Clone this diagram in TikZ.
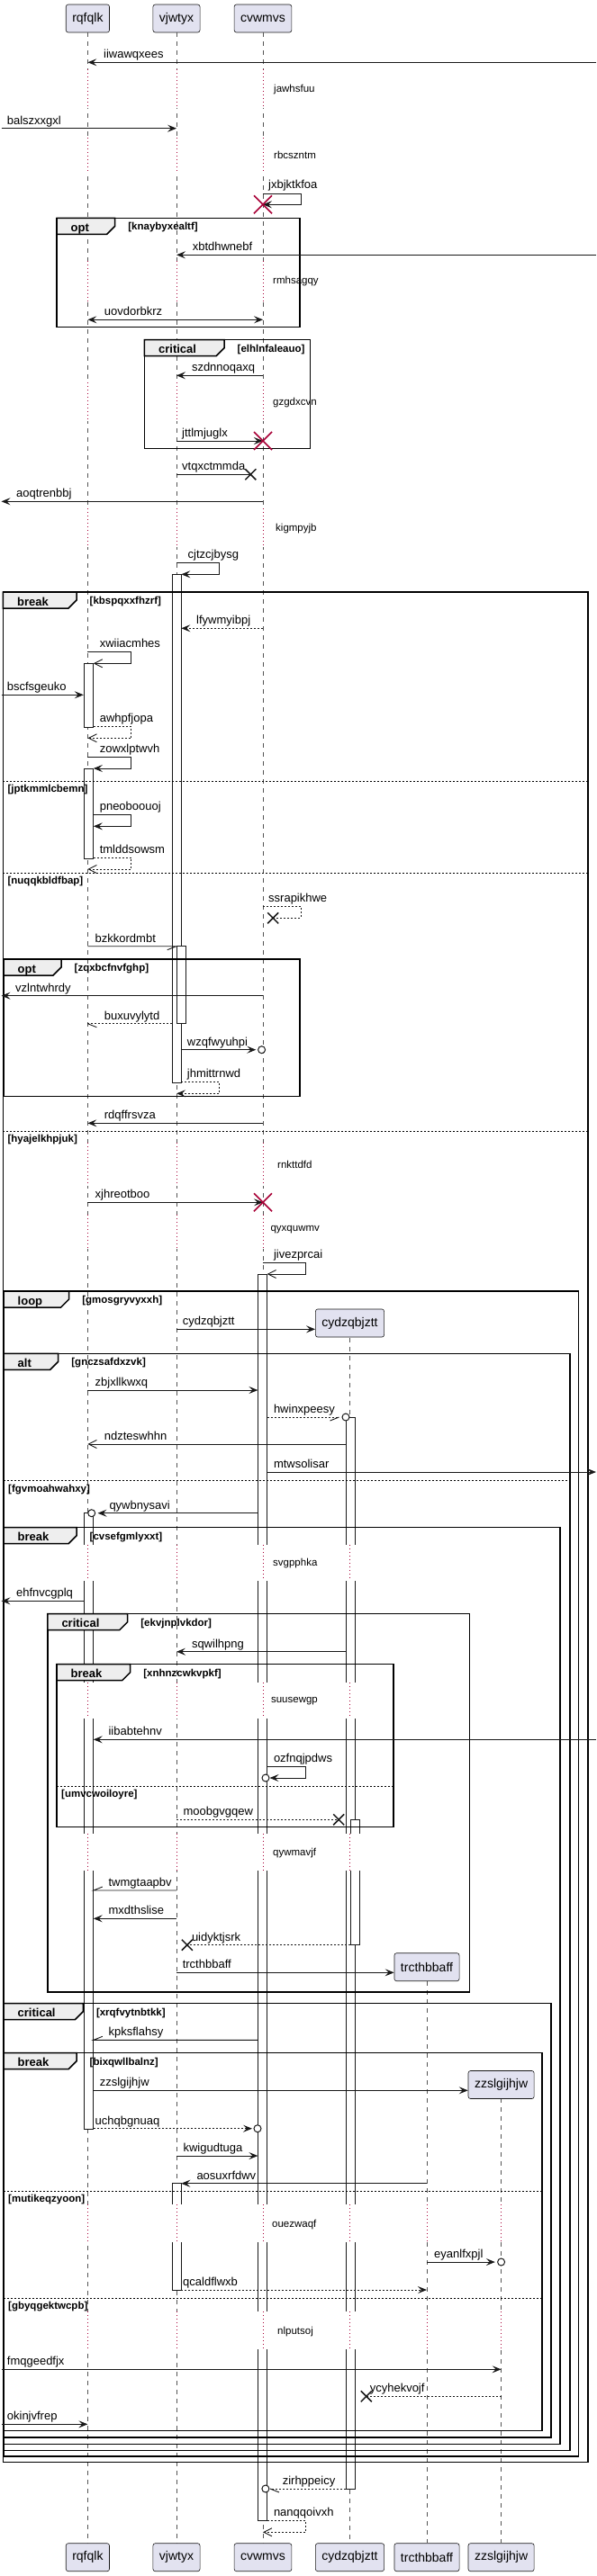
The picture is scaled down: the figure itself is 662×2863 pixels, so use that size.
\documentclass[tikz,border=0pt]{standalone}
\usepackage{fontspec}
\setmainfont{Liberation Sans}
\usetikzlibrary{arrows.meta, fit, positioning}

\definecolor{ink}{HTML}{181818}
\definecolor{lifegray}{HTML}{555555}
\definecolor{stallred}{HTML}{A80036}
\definecolor{partfill}{HTML}{E2E2F0}
\definecolor{tabfill}{HTML}{EEEEEE}

\tikzset{
  fullhead/.tip={Stealth[length=10pt,width=8pt,inset=4pt]},
  openhead/.tip={Straight Barb[length=9pt,width=9pt]},
  partbox/.style={draw=ink, fill=partfill, rounded corners=2.5pt, line width=0.6pt, minimum height=31pt, inner xsep=7pt, font=\fontsize{14}{16}\selectfont},
  lifeline/.style={draw=lifegray, line width=0.7pt, dash pattern=on 5pt off 5pt},
  stallline/.style={draw=stallred, line width=1pt, dash pattern=on 1pt off 3pt},
  actbar/.style={draw=ink, fill=white, line width=0.8pt, inner sep=0pt},
  plainline/.style={draw=ink, line width=0.9pt},
  msgline/.style={plainline, -fullhead},
  asyncline/.style={plainline, -openhead},
  dblline/.style={plainline, fullhead-fullhead},
  retdash/.style={dash pattern=on 2pt off 2pt},
  grpframe/.style={draw=black, line width=1.5pt},
  elseline/.style={draw=black, line width=0.8pt, dash pattern=on 2pt off 2pt},
  msglabel/.style={anchor=base west, inner sep=0pt, font=\fontsize{13}{15}\selectfont},
  delaylabel/.style={anchor=west, inner sep=0pt, font=\fontsize{11.5}{13}\selectfont},
  kwlabel/.style={anchor=base west, inner sep=0pt, font=\fontsize{13}{15}\selectfont\bfseries},
  condlabel/.style={anchor=base west, inner sep=0pt, font=\fontsize{11.5}{13}\selectfont\bfseries},
  destroy/.pic={\draw[stallred, line width=1.6pt] (-10,-10) -- (10,10) (-10,10) -- (10,-10);},
  lost/.pic={\draw[ink, line width=1.5pt] (-6,-6) -- (6,6) (-6,6) -- (6,-6);},
  ring/.pic={\draw[ink, line width=1pt, fill=white] (0,0) circle[radius=4pt];}
}

% label of a message: x, baseline, text
\newcommand{\mlab}[3]{\node[msglabel] (m-#3) at (#1,#2) {#3};}
% delay: from, to, lifelines, text x, text y, text
\newcommand{\delaygap}[6]{%
  \foreach \p in {#3} {
    \fill[white] ([xshift=-12pt]\p |- 0,#1) rectangle ([xshift=12pt]\p |- 0,#2);
    \draw[stallline] (\p |- 0,#1) -- (\p |- 0,#2);
  }
  \node[delaylabel] (d-#6) at (#4,#5) {#6};}
% group frame: left, top, right, bottom, keyword, tab right, condition
\newcommand{\grp}[7]{%
  \draw[grpframe] (#1,#2) rectangle (#3,#4);
  \draw[grpframe, fill=tabfill] (#1,#2) -- (#6,#2) -- (#6,#2+9) -- (#6-9,#2+18) -- (#1,#2+18) -- cycle;
  \node[kwlabel] (#7-kw) at (#1+15.5,#2+15) {#5};
  \node[condlabel] (#7) at (#6+14.5,#2+13.5) {[#7]};}
% else line: left, right, y, condition
\newcommand{\grpelse}[4]{%
  \draw[elseline] (#1,#3) -- (#2,#3);
  \node[condlabel] (#4) at (#1+5,#3+12.5) {[#4]};}

\begin{document}
\begin{tikzpicture}[x=1pt, y=-1pt]
\useasboundingbox (0,0) rectangle (662,2863);
\coordinate (west-edge) at (1.5,0);
\coordinate (east-edge) at (662,0);

% participants
\node[partbox] (rqfqlk) at (97.4,20.5) {rqfqlk};
\node[partbox] (vjwtyx) at (196,20.5) {vjwtyx};
\node[partbox] (cvwmvs) at (292,20.5) {cvwmvs};
\node[partbox] (rqfqlk-b) at (97.4,2842.2) {rqfqlk};
\node[partbox] (vjwtyx-b) at (196,2842.2) {vjwtyx};
\node[partbox] (cvwmvs-b) at (292,2842.2) {cvwmvs};
\node[partbox] (cydzqbjztt-b) at (388.5,2842.2) {cydzqbjztt};
\node[partbox] (trcthbbaff-b) at (474,2842.2) {trcthbbaff};
\node[partbox] (zzslgijhjw-b) at (556.6,2842.2) {zzslgijhjw};
\coordinate (cydzqbjztt-top) at (388.5,1486.7);
\coordinate (trcthbbaff-top) at (474,2202.3);
\coordinate (zzslgijhjw-top) at (556.6,2332.3);

\draw[lifeline] (rqfqlk.south) -- (rqfqlk-b.north);
\draw[lifeline] (vjwtyx.south) -- (vjwtyx-b.north);
\draw[lifeline] (cvwmvs.south) -- (cvwmvs-b.north);
\draw[lifeline] (cydzqbjztt-top) -- (cydzqbjztt-b.north);
\draw[lifeline] (trcthbbaff-top) -- (trcthbbaff-b.north);
\draw[lifeline] (zzslgijhjw-top) -- (zzslgijhjw-b.north);

% activations
\node[actbar, fit={(191,638.3) (200.9,1203.3)}] (vjwtyx-a1) {};
\node[actbar, fit={(93.2,737.3) (103.4,808.3)}] (rqfqlk-a1) {};
\node[actbar, fit={(93.2,854) (103.4,954)}] (rqfqlk-a2) {};
\node[actbar, fit={(196.2,1051.7) (206.4,1137.7)}] (vjwtyx-a2) {};
\node[actbar, fit={(286.8,1416) (296.2,2801.7)}] (cvwmvs-a1) {};
\node[actbar, fit={(384.3,1575) (394.5,2766)}] (cydzqbjztt-a1) {};
\node[actbar, fit={(93.2,1681.7) (103.4,2366)}] (rqfqlk-a3) {};
\node[actbar, fit={(389.8,2022.3) (399.1,2161)}] (cydzqbjztt-a2) {};
\node[actbar, fit={(191,2426.7) (200.9,2545)}] (vjwtyx-a3) {};

% delays
\delaygap{77}{120}{rqfqlk,vjwtyx,cvwmvs}{304}{99.3}{jawhsfuu}
\delaygap{153}{193}{rqfqlk,vjwtyx,cvwmvs}{304}{172.7}{rbcszntm}
\delaygap{290}{335}{rqfqlk,vjwtyx,cvwmvs}{303}{312.7}{rmhsagqy}
\delaygap{425}{468}{rqfqlk,vjwtyx,cvwmvs}{303}{447.3}{gzgdxcvn}
\delaygap{565}{608}{rqfqlk,vjwtyx,cvwmvs}{306}{587.7}{kigmpyjb}
\delaygap{1270}{1318}{rqfqlk,vjwtyx,cvwmvs}{308}{1294.3}{rnkttdfd}
\delaygap{1350}{1388}{rqfqlk,vjwtyx,cvwmvs}{300.4}{1367}{qyxquwmv}
\delaygap{1716.7}{1756.7}{rqfqlk,vjwtyx,cvwmvs,cydzqbjztt-top}{303}{1737.3}{svgpphka}
\delaygap{1870}{1910}{rqfqlk,vjwtyx,cvwmvs,cydzqbjztt-top}{300.9}{1890.7}{suusewgp}
\delaygap{2037.7}{2079}{rqfqlk,vjwtyx,cvwmvs,cydzqbjztt-top}{303}{2059.3}{qywmavjf}
\delaygap{2450}{2492.3}{rqfqlk,vjwtyx,cvwmvs,cydzqbjztt-top,trcthbbaff-top,zzslgijhjw-top}{302}{2472.3}{ouezwaqf}
\delaygap{2569}{2611}{rqfqlk,vjwtyx,cvwmvs,cydzqbjztt-top,trcthbbaff-top,zzslgijhjw-top}{308}{2591.7}{nlputsoj}

% groups
\grp{3.4}{658}{653.2}{2736.7}{break}{85}{kbspqxxfhzrf}
\grpelse{3.4}{653.2}{868.3}{jptkmmlcbemn}
\grpelse{3.4}{653.2}{970.3}{nuqqkbldfbap}
\grpelse{3.4}{653.2}{1257.3}{hyajelkhpjuk}
\grp{63}{242.3}{332.8}{363.3}{opt}{127.7}{knaybyxealtf}
\grp{160.4}{377.7}{344.7}{498.3}{critical}{249}{elhlnfaleauo}
\grp{4}{1066}{332.8}{1218.3}{opt}{68}{zqxbcfnvfghp}
\grp{4}{1435}{642.6}{2730}{loop}{76.6}{gmosgryvyxxh}
\grp{4}{1504.3}{633.2}{2723.3}{alt}{64.7}{gnczsafdxzvk}
\grpelse{4}{633.2}{1645.7}{fgvmoahwahxy}
\grp{4}{1697.7}{622.1}{2716.7}{break}{85}{cvsefgmlyxxt}
\grp{52.8}{1793.7}{521.7}{2214}{critical}{141.7}{ekvjnplvkdor}
\grp{63}{1849.7}{437}{2030.7}{break}{144.7}{xnhnzcwkvpkf}
\grpelse{63}{437}{1985.3}{umvcwoiloyre}
\grp{4}{2226.7}{611.9}{2709}{critical}{92.3}{xrqfvytnbtkk}
\grp{4}{2281.7}{602.1}{2701.7}{break}{85}{bixqwllbalnz}
\grpelse{4}{602.1}{2435}{mutikeqzyoon}
\grpelse{4}{602.1}{2554.3}{gbyqgektwcpb}

% created participants
\node[partbox] (cydzqbjztt) at (388.5,1470.5) {cydzqbjztt};
\node[partbox] (trcthbbaff) at (474,2186.2) {trcthbbaff};
\node[partbox] (zzslgijhjw) at (556.6,2317) {zzslgijhjw};

% messages
\draw[msgline] (east-edge |- 0,69.3) -- (rqfqlk |- 0,69.3);
\mlab{115}{64.8}{iiwawqxees}
\draw[msgline] (west-edge |- 0,142.7) -- (vjwtyx |- 0,142.7);
\mlab{7.7}{138.2}{balszxxgxl}
\draw[msgline] (cvwmvs |- 0,215) -- ++(42,0) -- ++(0,12.3) -- (cvwmvs |- 0,227.3);
\mlab{298}{210}{jxbjktkfoa}
\draw[msgline] (east-edge |- 0,283.3) -- (vjwtyx |- 0,283.3);
\mlab{213.6}{278.8}{xbtdhwnebf}
\draw[dblline] (rqfqlk |- 0,355.3) -- (cvwmvs |- 0,355.3);
\mlab{115.7}{350.8}{uovdorbkrz}
\draw[msgline] (cvwmvs |- 0,417.3) -- (vjwtyx |- 0,417.3);
\mlab{212.8}{412.8}{szdnnoqaxq}
\draw[msgline] (vjwtyx |- 0,490) -- (cvwmvs |- 0,490);
\mlab{202}{485.5}{jttlmjuglx}
\draw[plainline] (vjwtyx |- 0,527.3) -- ([xshift=-13.7pt]cvwmvs |- 0,527.3);
\mlab{202}{522.8}{vtqxctmmda}
\draw[msgline] (cvwmvs |- 0,557.3) -- (west-edge |- 0,557.3);
\mlab{17.9}{552.8}{aoqtrenbbj}
\draw[msgline] (vjwtyx |- 0,625.7) -- ++(47.4,0) -- ++(0,12.6) -- (vjwtyx-a1.east |- 0,638.3);
\mlab{208.5}{620.7}{cjtzcjbysg}
\draw[msgline, retdash] (cvwmvs |- 0,698.3) -- (vjwtyx-a1.east |- 0,698.3);
\mlab{218}{693.8}{lfywmyibpj}
\draw[asyncline] (rqfqlk |- 0,724.3) -- ++(48.1,0) -- ++(0,13) -- (rqfqlk-a1.east |- 0,737.3);
\mlab{110.6}{719.3}{xwiiacmhes}
\draw[msgline] (west-edge |- 0,772.3) -- (rqfqlk-a1.west |- 0,772.3);
\mlab{7.7}{767.8}{bscfsgeuko}
\draw[asyncline, retdash] (rqfqlk-a1.east |- 0,807.7) -- ++(42.1,0) -- ++(0,12.6) -- (rqfqlk |- 0,820.3);
\mlab{110.6}{802.7}{awhpfjopa}
\draw[msgline] (rqfqlk |- 0,841) -- ++(48.1,0) -- ++(0,13) -- (rqfqlk-a2.east |- 0,854);
\mlab{110.6}{836}{zowxlptwvh}
\draw[msgline] (rqfqlk-a2.east |- 0,905.7) -- ++(42.1,0) -- ++(0,12.6) -- (rqfqlk-a2.east |- 0,918.3);
\mlab{110.6}{900.7}{pneoboouoj}
\draw[asyncline, retdash] (rqfqlk-a2.east |- 0,953.3) -- ++(42.1,0) -- ++(0,12.7) -- (rqfqlk |- 0,966);
\mlab{110.6}{948.3}{tmlddsowsm}
\draw[plainline, retdash] (cvwmvs |- 0,1007.3) -- ++(42,0) -- ++(0,13) -- ([xshift=11.2pt]cvwmvs |- 0,1020.3);
\mlab{298}{1002.3}{ssrapikhwe}
\draw[plainline] (rqfqlk |- 0,1051.7) -- (vjwtyx-a2.west |- 0,1051.7) -- ++(-10,4);
\mlab{105.5}{1047.2}{bzkkordmbt}
\draw[msgline] (cvwmvs |- 0,1106.7) -- (west-edge |- 0,1106.7);
\mlab{17}{1102.2}{vzlntwhrdy}
\draw[plainline, retdash] (vjwtyx-a1.west |- 0,1137.7) -- (rqfqlk |- 0,1137.7);
\draw[plainline] (rqfqlk |- 0,1137.7) -- ++(10,4);
\mlab{115.7}{1133.2}{buxuvylytd}
\draw[msgline] (vjwtyx-a1.east |- 0,1166.7) -- ([xshift=-7.7pt]cvwmvs |- 0,1166.7);
\mlab{207.7}{1162.2}{wzqfwyuhpi}
\draw[msgline, retdash] (vjwtyx-a1.east |- 0,1202.3) -- ++(42.5,0) -- ++(0,13) -- (vjwtyx |- 0,1215.3);
\mlab{207.7}{1197.3}{jhmittrnwd}
\draw[msgline] (cvwmvs |- 0,1248.3) -- (rqfqlk |- 0,1248.3);
\mlab{115.7}{1243.8}{rdqffrsvza}
\draw[msgline] (rqfqlk |- 0,1336.3) -- (cvwmvs |- 0,1336.3);
\mlab{105.5}{1331.8}{xjhreotboo}
\draw[asyncline] (cvwmvs |- 0,1403.7) -- ++(47.1,0) -- ++(0,12.3) -- (cvwmvs-a1.east |- 0,1416);
\mlab{303.8}{1398.7}{jivezprcai}
\draw[msgline] (vjwtyx |- 0,1477.3) -- (cydzqbjztt.west |- 0,1477.3);
\mlab{202.6}{1472.8}{cydzqbjztt}
\draw[msgline] (rqfqlk |- 0,1545) -- (cvwmvs-a1.west |- 0,1545);
\mlab{105.5}{1540.5}{zbjxllkwxq}
\draw[plainline, retdash] (cvwmvs-a1.east |- 0,1575) -- ([xshift=-12pt]cydzqbjztt |- 0,1575);
\draw[plainline] ([xshift=-12pt]cydzqbjztt |- 0,1575) -- ++(-10,4);
\mlab{303.8}{1570.5}{hwinxpeesy}
\draw[asyncline] (cydzqbjztt-a1.west |- 0,1605) -- (rqfqlk |- 0,1605);
\mlab{115.7}{1600.5}{ndzteswhhn}
\draw[msgline] (cvwmvs-a1.east |- 0,1636) -- (east-edge |- 0,1636);
\mlab{303.8}{1631.5}{mtwsolisar}
\draw[msgline] (cvwmvs-a1.west |- 0,1681.7) -- ([xshift=11.1pt]rqfqlk |- 0,1681.7);
\mlab{121.3}{1677.2}{qywbnysavi}
\draw[msgline] (rqfqlk-a3.west |- 0,1779.3) -- (west-edge |- 0,1779.3);
\mlab{17.9}{1774.8}{ehfnvcgplq}
\draw[msgline] (cydzqbjztt-a1.west |- 0,1835.7) -- (vjwtyx |- 0,1835.7);
\mlab{212.8}{1831.2}{sqwilhpng}
\draw[msgline] (east-edge |- 0,1933.3) -- (rqfqlk-a3.east |- 0,1933.3);
\mlab{120.4}{1928.8}{iibabtehnv}
\draw[msgline] (cvwmvs-a1.east |- 0,1963.3) -- ++(42.9,0) -- ++(0,12.7) -- ([xshift=7.5pt]cvwmvs |- 0,1976);
\mlab{303.8}{1958.3}{ozfnqjpdws}
\draw[plainline, retdash] (vjwtyx |- 0,2022.3) -- ([xshift=-12.3pt]cydzqbjztt |- 0,2022.3);
\mlab{203.4}{2017.8}{moobgvgqew}
\draw[plainline] (vjwtyx |- 0,2101) -- (rqfqlk-a3.east |- 0,2101) -- ++(10,-4);
\mlab{120.4}{2096.5}{twmgtaapbv}
\draw[msgline] (vjwtyx |- 0,2132.3) -- (rqfqlk-a3.east |- 0,2132.3);
\mlab{120.4}{2127.8}{mxdthslise}
\draw[plainline, retdash] (cydzqbjztt-a2.west |- 0,2161.7) -- ([xshift=11.8pt]vjwtyx |- 0,2161.7);
\mlab{212.8}{2157.2}{uidyktjsrk}
\draw[msgline] (vjwtyx |- 0,2192.3) -- (trcthbbaff.west |- 0,2192.3);
\mlab{202.6}{2187.8}{trcthbbaff}
\draw[plainline] (cvwmvs-a1.west |- 0,2267.3) -- (rqfqlk-a3.east |- 0,2267.3) -- ++(10,-4);
\mlab{120.4}{2262.8}{kpksflahsy}
\draw[msgline] (rqfqlk-a3.east |- 0,2323.3) -- (zzslgijhjw.west |- 0,2323.3);
\mlab{110.6}{2318.8}{zzslgijhjw}
\draw[msgline, retdash] (rqfqlk-a3.east |- 0,2365.7) -- ([xshift=-12pt]cvwmvs |- 0,2365.7);
\mlab{105.5}{2361.2}{uchqbgnuaq}
\draw[msgline] (vjwtyx |- 0,2396) -- (cvwmvs-a1.west |- 0,2396);
\mlab{203.4}{2391.5}{kwigudtuga}
\draw[msgline] (trcthbbaff |- 0,2426.7) -- (vjwtyx-a3.east |- 0,2426.7);
\mlab{218.3}{2422.2}{aosuxrfdwv}
\draw[msgline] (trcthbbaff |- 0,2514) -- ([xshift=-6.8pt]zzslgijhjw |- 0,2514);
\mlab{482}{2509.5}{eyanlfxpjl}
\draw[msgline, retdash] (vjwtyx-a3.east |- 0,2545) -- (trcthbbaff |- 0,2545);
\mlab{203}{2540.5}{qcaldflwxb}
\draw[msgline] (west-edge |- 0,2633.3) -- (zzslgijhjw |- 0,2633.3);
\mlab{7.7}{2628.8}{fmqgeedfjx}
\draw[plainline, retdash] (zzslgijhjw |- 0,2663.3) -- ([xshift=18.3pt]cydzqbjztt |- 0,2663.3);
\mlab{410.6}{2658.8}{ycyhekvojf}
\draw[msgline] (west-edge |- 0,2694.3) -- (rqfqlk |- 0,2694.3);
\mlab{7.7}{2689.8}{okinjvfrep}
\draw[plainline, retdash] (cydzqbjztt-a1.west |- 0,2766) -- ([xshift=8pt]cvwmvs |- 0,2766);
\draw[plainline] ([xshift=8pt]cvwmvs |- 0,2766) -- ++(10,4);
\mlab{313.6}{2761.5}{zirhppeicy}
\draw[asyncline, retdash] (cvwmvs-a1.east |- 0,2801.7) -- ++(42.9,0) -- ++(0,12.6) -- (cvwmvs |- 0,2814.3);
\mlab{303.8}{2796.7}{nanqqoivxh}

% ends: destroyed, lost, circles
\pic at (cvwmvs |- 0,227.3) {destroy};
\pic at (cvwmvs |- 0,490) {destroy};
\pic at (cvwmvs |- 0,1336.3) {destroy};
\pic at ([xshift=-13.7pt]cvwmvs |- 0,527.3) {lost};
\pic at ([xshift=11.2pt]cvwmvs |- 0,1020.3) {lost};
\pic at ([xshift=-12.3pt]cydzqbjztt |- 0,2022.3) {lost};
\pic at ([xshift=11.8pt]vjwtyx |- 0,2161.7) {lost};
\pic at ([xshift=18.3pt]cydzqbjztt |- 0,2663.3) {lost};
\pic at ([xshift=-1.4pt]cvwmvs |- 0,1166.7) {ring};
\pic at ([xshift=-4.5pt]cydzqbjztt |- 0,1575) {ring};
\pic at ([xshift=4.3pt]rqfqlk |- 0,1681.7) {ring};
\pic at ([xshift=3pt]cvwmvs |- 0,1976) {ring};
\pic at ([xshift=-6pt]cvwmvs |- 0,2365.7) {ring};
\pic at (zzslgijhjw |- 0,2514) {ring};
\pic at ([xshift=2.9pt]cvwmvs |- 0,2766) {ring};
\end{tikzpicture}
\end{document}
